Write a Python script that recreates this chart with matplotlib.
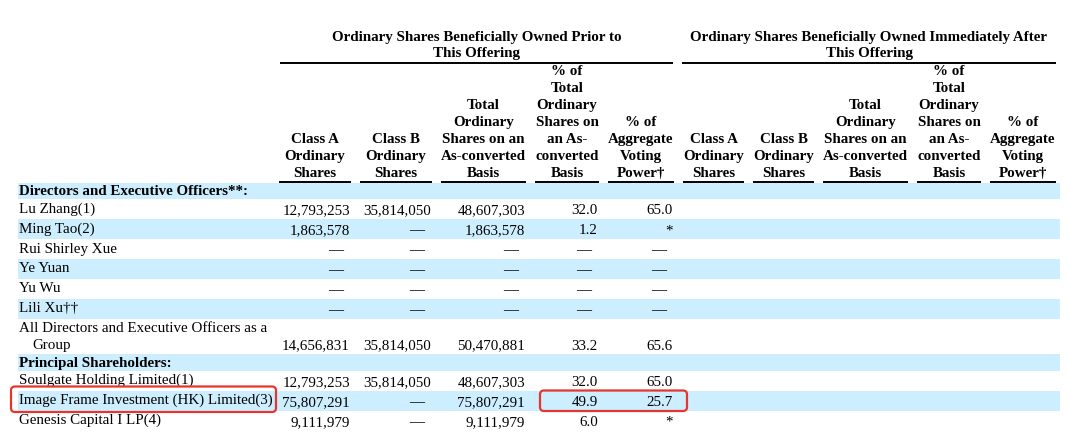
import matplotlib
matplotlib.use("Agg")
import matplotlib.pyplot as plt
from matplotlib.patches import Rectangle, FancyBboxPatch

# ---------------- data ----------------
group_titles = [
    ["Ordinary Shares Beneficially Owned Prior to", "This Offering"],
    ["Ordinary Shares Beneficially Owned Immediately After", "This Offering"],
]
column_headers = [
    ["Class A", "Ordinary", "Shares"],
    ["Class B", "Ordinary", "Shares"],
    ["Total", "Ordinary", "Shares on an", "As-converted", "Basis"],
    ["% of", "Total", "Ordinary", "Shares on", "an As-", "converted", "Basis"],
    ["% of", "Aggregate", "Voting", "Power\u2020"],
]
row_labels = [
    "Directors and Executive Officers**:",
    "Lu Zhang(1)",
    "Ming Tao(2)",
    "Rui Shirley Xue",
    "Ye Yuan",
    "Yu Wu",
    "Lili Xu\u2020\u2020",
    "All Directors and Executive Officers as a\nGroup",
    "Principal Shareholders:",
    "Soulgate Holding Limited(1)",
    "Image Frame Investment (HK) Limited(3)",
    "Genesis Capital I LP(4)",
]
row_is_section = [True, False, False, False, False, False, False, False,
                  True, False, False, False]
D = "\u2014"
class_a = ["", "12,793,253", "1,863,578", D, D, D, D, "14,656,831", "",
           "12,793,253", "75,807,291", "9,111,979"]
class_b = ["", "35,814,050", D, D, D, D, D, "35,814,050", "",
           "35,814,050", D, D]
total_shares = ["", "48,607,303", "1,863,578", D, D, D, D, "50,470,881", "",
                "48,607,303", "75,807,291", "9,111,979"]
pct_total = ["", "32.0", "1.2", D, D, D, D, "33.2", "",
             "32.0", "49.9", "6.0"]
pct_voting = ["", "65.0", "*", D, D, D, D, "65.6", "",
              "65.0", "25.7", "*"]
highlight_row = "Image Frame Investment (HK) Limited(3)"

# ---------------- layout ----------------
W, H = 1070, 442
fig = plt.figure(figsize=(W / 100, H / 100), dpi=100)
ax = fig.add_axes([0, 0, 1, 1])
ax.set_xlim(0, W)
ax.set_ylim(H, 0)
ax.axis("off")

FONT = "Liberation Serif"
FS = 10.8
INK = "#000000"
SHADE = "#CCEEFF"
RED = "#E5352F"

group_spans = [(280, 673), (682, 1056)]
col_spans = [
    [(279, 351), (360, 432), (441, 526), (535, 599), (608, 674)],
    [(683, 744), (753, 814), (823, 908), (917, 981), (990, 1056)],
]
lw_rule = 1.4

# group titles
for (x0, x1), lines in zip(group_spans, group_titles):
    cx = (x0 + x1) / 2
    for i, t in enumerate(lines):
        ax.text(cx, 41 + i * 16.5, t, ha="center", va="baseline",
                fontfamily=FONT, fontweight="bold", fontsize=FS, color=INK)
    ax.plot([x0, x1], [62.5, 62.5], color="black", lw=lw_rule,
            solid_capstyle="butt")

# column headers
for spans in col_spans:
    for (x0, x1), lines in zip(spans, column_headers):
        cx = (x0 + x1) / 2
        n = len(lines)
        for i, t in enumerate(lines):
            y = 177 - (n - 1 - i) * 17
            ax.text(cx, y, t, ha="center", va="baseline",
                    fontfamily=FONT, fontweight="bold", fontsize=FS, color=INK)
        ax.plot([x0, x1], [181.5, 181.5], color="black", lw=lw_rule,
                solid_capstyle="butt")

# body rows
value_cols = [class_a, class_b, total_shares, pct_total, pct_voting]
y = 182.5
row_boxes = {}
for r, label in enumerate(row_labels):
    nlines = label.count("\n") + 1
    if row_is_section[r]:
        h = 16.5
    else:
        h = 20 if nlines == 1 else 35
    top, bot = y, y + h
    if r % 2 == 0:
        ax.add_patch(Rectangle((18, top), 1060 - 18, h, facecolor=SHADE,
                               edgecolor="none", zorder=0))
    if row_is_section[r]:
        ax.text(19, top + 12.5, label, ha="left", va="baseline",
                fontfamily=FONT, fontweight="bold", fontsize=FS, color=INK)
    else:
        for i, part in enumerate(label.split("\n")):
            xx = 19 if i == 0 else 32
            ax.text(xx, top + 13.5 + i * 16.5, part, ha="left", va="baseline",
                    fontfamily=FONT, fontsize=FS, color=INK)
        for c, vals in enumerate(value_cols):
            v = vals[r]
            if not v:
                continue
            x1 = col_spans[0][c][1]
            xr = x1 - 8 if v == D else x1 - 1
            ax.text(xr, bot - 4.5, v, ha="right", va="baseline",
                    fontfamily=FONT, fontsize=FS, color=INK)
    row_boxes[label] = (top, bot)
    y = bot

# highlight boxes
top, bot = row_boxes[highlight_row]
for (x0, x1, t, b) in [(11, 276, top - 4, bot + 1.5),
                       (col_spans[0][3][0] + 5, col_spans[0][4][1] + 13,
                        top, bot + 0.5)]:
    ax.add_patch(FancyBboxPatch((x0, t), x1 - x0, b - t,
                                boxstyle="round,pad=0,rounding_size=4",
                                facecolor="none", edgecolor=RED, lw=1.6,
                                zorder=5))

fig.savefig("out.png", dpi=100)
